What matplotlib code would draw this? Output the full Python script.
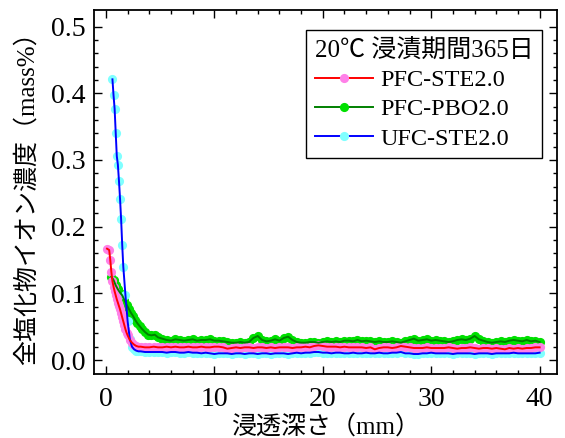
import numpy as np
import matplotlib
matplotlib.use("Agg")
import matplotlib.pyplot as plt
from matplotlib.lines import Line2D

plt.rcParams['font.family'] = ['Liberation Serif', 'Noto Sans CJK JP']

# --- data ---
# PFC-STE2.0
ste_x_head = [0.1, 0.3, 0.4, 0.5, 0.6, 0.7, 0.8, 0.9, 1.0, 1.1, 1.2, 1.3, 1.4, 1.5,
              1.6, 1.7, 1.8, 1.9, 2.0, 2.2, 2.4, 2.6, 2.8, 3.0]
ste_y_head = [0.167, 0.165, 0.150, 0.132, 0.118, 0.110, 0.103, 0.097, 0.091, 0.086,
              0.081, 0.076, 0.070, 0.064, 0.058, 0.052, 0.046, 0.041, 0.037, 0.030,
              0.026, 0.023, 0.021, 0.020]
ste_y_tail = [0.020, 0.019, 0.019, 0.020, 0.019, 0.019, 0.020, 0.019, 0.020, 0.019,
              0.019, 0.020, 0.019, 0.019, 0.020, 0.019, 0.019, 0.020, 0.020, 0.019,
              0.017, 0.018, 0.019, 0.018, 0.019, 0.019, 0.018, 0.019, 0.019, 0.018,
              0.019, 0.018, 0.019, 0.019, 0.019, 0.018, 0.019, 0.019, 0.020, 0.019,
              0.021, 0.022, 0.021, 0.020, 0.020, 0.020, 0.019, 0.020, 0.019, 0.019,
              0.019, 0.019, 0.018, 0.019, 0.016, 0.018, 0.019, 0.019, 0.018, 0.019,
              0.021, 0.020, 0.019, 0.018, 0.018, 0.018, 0.019, 0.018, 0.018, 0.018,
              0.018, 0.019, 0.018, 0.017, 0.018, 0.018, 0.019, 0.018, 0.017, 0.018,
              0.018, 0.017, 0.018, 0.017, 0.016, 0.018, 0.017, 0.018, 0.017, 0.018,
              0.018, 0.019, 0.019]

# PFC-PBO2.0
pbo_x_head = [0.5, 0.7, 0.9, 1.1, 1.3, 1.5, 1.7, 1.9, 2.1, 2.3, 2.5, 2.7, 2.9, 3.1,
              3.3, 3.6, 3.9, 4.2, 4.5, 4.8, 5.2]
pbo_y_head = [0.125, 0.120, 0.112, 0.106, 0.101, 0.097, 0.090, 0.083, 0.077, 0.071,
              0.066, 0.060, 0.055, 0.051, 0.047, 0.042, 0.038, 0.037, 0.038, 0.034,
              0.032]
pbo_y_tail = [0.030, 0.029, 0.031, 0.030, 0.029, 0.030, 0.031, 0.029, 0.030, 0.030,
              0.031, 0.029, 0.029, 0.028, 0.027, 0.026, 0.026, 0.027, 0.026, 0.027,
              0.033, 0.036, 0.030, 0.028, 0.029, 0.031, 0.029, 0.033, 0.035, 0.030,
              0.027, 0.026, 0.026, 0.027, 0.027, 0.026, 0.027, 0.028, 0.027, 0.028,
              0.027, 0.029, 0.029, 0.028, 0.030, 0.028, 0.029, 0.028, 0.027, 0.028,
              0.027, 0.027, 0.028, 0.027, 0.026, 0.028, 0.030, 0.032, 0.029, 0.030,
              0.031, 0.029, 0.030, 0.029, 0.028, 0.027, 0.028, 0.030, 0.031, 0.030,
              0.032, 0.036, 0.031, 0.029, 0.027, 0.026, 0.027, 0.028, 0.027, 0.029,
              0.030, 0.029, 0.028, 0.030, 0.028, 0.029, 0.027]

# UFC-STE2.0
ufc_x_head = [0.6, 0.7, 0.8, 0.9, 1.0, 1.1, 1.2, 1.3, 1.4, 1.5, 1.6, 1.8, 2.0, 2.2,
              2.4, 2.6, 2.8, 3.0]
ufc_y_head = [0.421, 0.397, 0.377, 0.341, 0.306, 0.293, 0.269, 0.242, 0.211, 0.173,
              0.140, 0.097, 0.058, 0.032, 0.020, 0.016, 0.014, 0.013]
ufc_y_tail = [0.013, 0.012, 0.012, 0.012, 0.012, 0.012, 0.011, 0.012, 0.012, 0.011,
              0.011, 0.012, 0.011, 0.011, 0.010, 0.011, 0.010, 0.009, 0.010, 0.010,
              0.010, 0.009, 0.010, 0.010, 0.009, 0.010, 0.010, 0.009, 0.010, 0.010,
              0.009, 0.010, 0.010, 0.010, 0.009, 0.010, 0.011, 0.010, 0.011, 0.011,
              0.012, 0.012, 0.011, 0.011, 0.010, 0.011, 0.011, 0.010, 0.010, 0.011,
              0.010, 0.010, 0.011, 0.010, 0.010, 0.011, 0.010, 0.010, 0.011, 0.011,
              0.012, 0.010, 0.010, 0.009, 0.009, 0.010, 0.010, 0.011, 0.010, 0.010,
              0.010, 0.010, 0.009, 0.010, 0.010, 0.010, 0.010, 0.009, 0.010, 0.010,
              0.010, 0.009, 0.010, 0.010, 0.010, 0.010, 0.011, 0.010, 0.010, 0.010,
              0.010, 0.010, 0.011]

tail_x = np.round(np.arange(3.2, 40.01, 0.4), 1)      # STE / UFC sampling
pbo_tail_x = np.round(np.arange(5.6, 40.01, 0.4), 1)  # PBO sampling

ste_x = np.concatenate([ste_x_head, tail_x])
ste_y = np.concatenate([ste_y_head, ste_y_tail])
pbo_x = np.concatenate([pbo_x_head, pbo_tail_x])
pbo_y = np.concatenate([pbo_y_head, pbo_y_tail])
ufc_x = np.concatenate([ufc_x_head, tail_x])
ufc_y = np.concatenate([ufc_y_head, ufc_y_tail])

legend_title = "20℃ 浸漬期間365日"
x_label = "浸透深さ（mm）"
y_label = "全塩化物イオン濃度（mass%）"

# (name, x, y, line colour, marker colour)
series = [
    ('PFC-STE2.0', ste_x, ste_y, '#ff0000', '#ff80e8'),
    ('PFC-PBO2.0', pbo_x, pbo_y, '#008000', '#00e000'),
    ('UFC-STE2.0', ufc_x, ufc_y, '#0000ff', '#80ffff'),
]

# --- plot ---
fig = plt.figure(figsize=(5.65, 4.38), dpi=100)
ax = fig.add_axes([0.1664, 0.1461, 0.8194, 0.8311])

ms = 6.6
lw = 1.4

# markers first (green, cyan, pink), lines on top
for idx in [1, 2, 0]:
    name, x, y, lc, mc = series[idx]
    ax.plot(x, y, ls='none', marker='o', ms=ms, mfc=mc, mec='none', zorder=2)
for idx in [1, 2, 0]:
    name, x, y, lc, mc = series[idx]
    ax.plot(x, y, color=lc, lw=lw, zorder=3)

handles = [Line2D([], [], color=lc, lw=lw, marker='o', ms=ms, mfc=mc, mec='none')
           for name, x, y, lc, mc in series]
labels = [s[0] for s in series]

ax.set_xlim(-1.1, 41.6)
ax.set_ylim(-0.021, 0.525)
ax.set_xticks([0, 10, 20, 30, 40])
ax.set_xticks(np.arange(0, 41, 2), minor=True)
ax.set_yticks([0.0, 0.1, 0.2, 0.3, 0.4, 0.5])
ax.set_yticks(np.arange(0, 0.51, 0.02), minor=True)
ax.set_yticklabels(['0.0', '0.1', '0.2', '0.3', '0.4', '0.5'])

ax.tick_params(which='both', direction='in', top=True, right=True, width=1.0,
               labelsize=20)
ax.tick_params(axis='x', which='both', pad=9)
ax.tick_params(axis='y', which='both', pad=6)
ax.tick_params(which='major', length=6)
ax.tick_params(which='minor', length=3)
for s in ax.spines.values():
    s.set_linewidth(1.3)

ax.set_xlabel(x_label, fontsize=18, labelpad=2)
ax.set_ylabel(y_label, fontsize=18, labelpad=9)

leg = ax.legend(handles=handles, labels=labels, title=legend_title,
                loc='upper right', bbox_to_anchor=(0.9676, 0.945),
                borderaxespad=0, fontsize=17.5, title_fontsize=18,
                fancybox=False, edgecolor='black', framealpha=1,
                handlelength=2.4, handletextpad=0.3, labelspacing=0.3,
                borderpad=0.35, alignment='left')
leg.get_frame().set_linewidth(1.0)

fig.savefig('out.png', dpi=100)
